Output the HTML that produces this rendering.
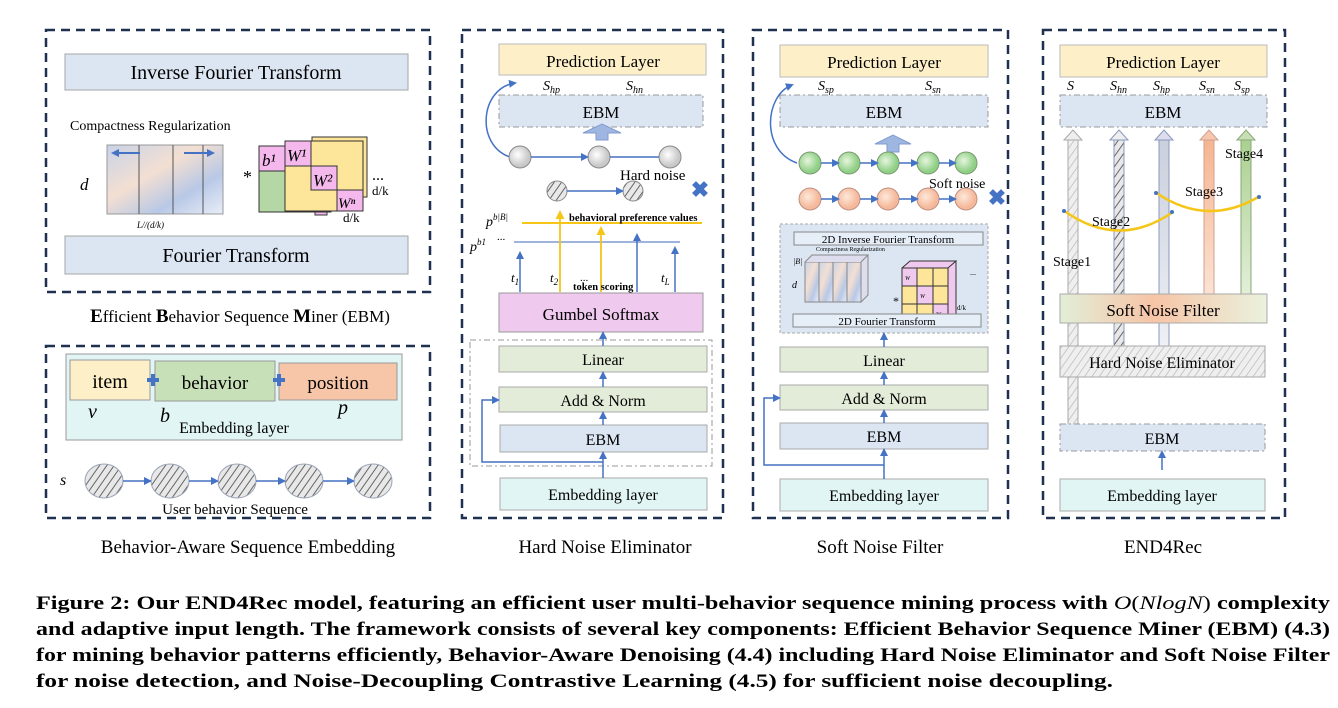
<!DOCTYPE html>
<html><head><meta charset="utf-8"><style>
html,body{margin:0;padding:0;background:#fff;}
svg{display:block;font-family:"Liberation Serif",serif;}
</style></head><body>
<svg width="1338" height="708" viewBox="0 0 1338 708" xmlns="http://www.w3.org/2000/svg">
<defs>
<pattern id="hatch" width="6" height="6" patternUnits="userSpaceOnUse" patternTransform="rotate(35)">
<rect width="6" height="6" fill="#e8e8e8"/><line x1="0" y1="0" x2="0" y2="6" stroke="#666" stroke-width="2"/></pattern>
<pattern id="hatchL" width="6" height="6" patternUnits="userSpaceOnUse" patternTransform="rotate(35)">
<rect width="6" height="6" fill="#efefef"/><line x1="0" y1="0" x2="0" y2="6" stroke="#bbb" stroke-width="1.5"/></pattern>
<marker id="ar" markerWidth="8" markerHeight="8" refX="6" refY="4" orient="auto" markerUnits="userSpaceOnUse"><path d="M0,0 L8,4 L0,8z" fill="#4472c4"/></marker>
<marker id="ay" markerWidth="9" markerHeight="9" refX="6" refY="4.5" orient="auto" markerUnits="userSpaceOnUse"><path d="M0,0 L9,4.5 L0,9z" fill="#f5c518"/></marker>
<radialGradient id="gc" cx="0.4" cy="0.4"><stop offset="0" stop-color="#fff"/><stop offset="1" stop-color="#c8c8c8"/></radialGradient>
<radialGradient id="gg" cx="0.4" cy="0.4"><stop offset="0" stop-color="#e6f5dd"/><stop offset="1" stop-color="#8fcf86"/></radialGradient>
<radialGradient id="go" cx="0.4" cy="0.4"><stop offset="0" stop-color="#fde9da"/><stop offset="1" stop-color="#f5b89a"/></radialGradient>
<linearGradient id="gm" x1="0" y1="0" x2="1" y2="1"><stop offset="0" stop-color="#c8d3e8"/><stop offset="0.4" stop-color="#f3dfd2"/><stop offset="0.7" stop-color="#b8c8e6"/><stop offset="1" stop-color="#e8eef8"/></linearGradient>
<linearGradient id="gs" x1="0" y1="0" x2="1" y2="0"><stop offset="0" stop-color="#e2eed8"/><stop offset="0.45" stop-color="#f7c4a6"/><stop offset="1" stop-color="#eaf2de"/></linearGradient>
<linearGradient id="vo" x1="0" y1="0" x2="0" y2="1"><stop offset="0" stop-color="#f6b48f"/><stop offset="1" stop-color="#fbe3d4"/></linearGradient>
<linearGradient id="vg" x1="0" y1="0" x2="0" y2="1"><stop offset="0" stop-color="#a9d08e"/><stop offset="1" stop-color="#e2efd9"/></linearGradient>
<linearGradient id="vb" x1="0" y1="0" x2="0" y2="1"><stop offset="0" stop-color="#c9cfdc"/><stop offset="1" stop-color="#eef0f5"/></linearGradient>
</defs>
<g fill="none" stroke="#1f3050" stroke-width="2.5" stroke-dasharray="9 6">
<rect x="46" y="30" width="384" height="262"/>
<rect x="46" y="346" width="384" height="172"/>
<rect x="462" y="30" width="261" height="488"/>
<rect x="753" y="30" width="255" height="488"/>
<rect x="1043" y="30" width="242" height="488"/>
</g>
<rect x="65" y="54" width="343" height="36" fill="#dce6f2" stroke="#a6a6a6"/>
<text x="236" y="79" font-size="20" text-anchor="middle">Inverse Fourier Transform</text>
<rect x="65" y="236" width="343" height="38" fill="#dce6f2" stroke="#a6a6a6"/>
<text x="236" y="262" font-size="20" text-anchor="middle">Fourier Transform</text>
<text x="70" y="130" font-size="14">Compactness Regularization</text>
<text x="80" y="190" font-size="17" font-style="italic">d</text>
<rect x="107" y="145" width="116" height="69" fill="url(#gm)" stroke="#999"/>
<g stroke="#555"><line x1="139" y1="145" x2="139" y2="214"/><line x1="173" y1="145" x2="173" y2="214"/><line x1="203" y1="145" x2="203" y2="214"/></g>
<line x1="140" y1="153" x2="113" y2="153" stroke="#4472c4" stroke-width="2" marker-end="url(#ar)"/>
<line x1="184" y1="153" x2="213" y2="153" stroke="#4472c4" stroke-width="2" marker-end="url(#ar)"/>
<text x="137" y="228" font-size="9" font-style="italic">L//(d/k)</text>
<text x="243" y="183" font-size="18">*</text>
<rect x="315" y="137" width="12" height="78" fill="#f4b8ec" stroke="#333"/>
<rect x="312" y="137" width="55" height="60" fill="#fde59a" stroke="#333"/>
<rect x="259" y="146" width="72" height="66" fill="#b5d6a5" stroke="#333"/>
<rect x="259" y="146" width="26" height="25" fill="#f4b8ec" stroke="#333"/>
<rect x="285" y="141" width="78" height="70" fill="#fde59a" stroke="#333"/>
<rect x="285" y="141" width="26" height="25" fill="#f4b8ec" stroke="#333"/>
<rect x="311" y="166" width="26" height="24" fill="#f4b8ec" stroke="#333"/>
<rect x="337" y="190" width="26" height="21" fill="#f4b8ec" stroke="#333"/>
<g font-size="17" font-style="italic"><text x="262" y="166">b¹</text><text x="287" y="161">W¹</text><text x="313" y="186">W²</text><text x="338" y="208" font-size="15">Wⁿ</text></g>
<text x="372" y="180" font-size="16">...</text>
<text x="372" y="195" font-size="13">d/k</text>
<text x="343" y="222" font-size="13">d/k</text>
<text x="240" y="322" font-size="17" text-anchor="middle"><tspan font-weight="bold" font-size="19">E</tspan>fficient <tspan font-weight="bold" font-size="19">B</tspan>ehavior Sequence <tspan font-weight="bold" font-size="19">M</tspan>iner (EBM)</text>
<rect x="66" y="354" width="336" height="86" fill="#e2f5f5" stroke="#999"/>
<rect x="70" y="360" width="80" height="40" fill="#fdf0c8" stroke="#999"/>
<rect x="155" y="361" width="120" height="40" fill="#c8e0b8" stroke="#999"/>
<rect x="279" y="363" width="118" height="37" fill="#f7c6a8" stroke="#999"/>
<text x="110" y="388" font-size="20" text-anchor="middle">item</text>
<text x="215" y="389" font-size="19" text-anchor="middle">behavior</text>
<text x="338" y="389" font-size="19" text-anchor="middle">position</text>
<g fill="#4472c4"><rect x="147" y="378" width="12" height="4"/><rect x="151" y="374" width="4" height="12"/><rect x="273" y="378" width="12" height="4"/><rect x="277" y="374" width="4" height="12"/></g>
<g font-size="20" font-style="italic"><text x="88" y="418">v</text><text x="160" y="422">b</text><text x="338" y="414">p</text></g>
<text x="234" y="433" font-size="16" text-anchor="middle">Embedding layer</text>
<text x="60" y="485" font-size="16" font-style="italic">s</text>
<g stroke="#9aa3b8" fill="url(#hatch)"><ellipse cx="104" cy="481" rx="19" ry="17"/><ellipse cx="170" cy="481" rx="19" ry="17"/><ellipse cx="237" cy="481" rx="19" ry="17"/><ellipse cx="304" cy="481" rx="19" ry="17"/><ellipse cx="373" cy="481" rx="19" ry="17"/></g>
<g stroke="#4472c4" stroke-width="1.5" marker-end="url(#ar)"><line x1="123" y1="481" x2="150" y2="481"/><line x1="189" y1="481" x2="217" y2="481"/><line x1="256" y1="481" x2="284" y2="481"/><line x1="323" y1="481" x2="353" y2="481"/></g>
<text x="235" y="514" font-size="15" text-anchor="middle">User behavior Sequence</text>
<rect x="499" y="44" width="207" height="31" fill="#fdefc8" stroke="#bbb"/>
<text x="603" y="67" font-size="17" text-anchor="middle">Prediction Layer</text>
<g font-size="14" font-style="italic"><text x="543" y="90">S<tspan font-size="10" dy="3">hp</tspan></text><text x="626" y="90">S<tspan font-size="10" dy="3">hn</tspan></text></g>
<rect x="499" y="95" width="204" height="32" fill="#dce6f2" stroke="#999" stroke-dasharray="6 3 2 3"/>
<text x="601" y="118" font-size="17" text-anchor="middle">EBM</text>
<path d="M596,140 L596,133 L583,133 L602,124 L621,133 L608,133 L608,140z" fill="#9fb6e0" stroke="#7f9bd0"/>
<path d="M510,157 C475,145 480,88 515,83" fill="none" stroke="#4472c4" stroke-width="1.5" marker-end="url(#ar)"/>
<g stroke="#888" fill="url(#gc)"><circle cx="520" cy="157" r="11"/><circle cx="599" cy="157" r="11"/><circle cx="670" cy="157" r="11"/></g>
<line x1="531" y1="157" x2="587" y2="157" stroke="#4472c4" stroke-width="1.5" marker-end="url(#ar)"/>
<line x1="610" y1="157" x2="659" y2="157" stroke="#4472c4" stroke-width="1.5"/>
<text x="620" y="180" font-size="15">Hard noise</text>
<g stroke="#888" fill="url(#hatch)"><circle cx="557" cy="191" r="10"/><circle cx="633" cy="191" r="10"/></g>
<line x1="567" y1="191" x2="622" y2="191" stroke="#4472c4" stroke-width="1.5" marker-end="url(#ar)"/>
<text x="700" y="197" font-size="22" fill="#4472c4" text-anchor="middle" font-weight="bold">✖</text>
<line x1="522" y1="223" x2="702" y2="223" stroke="#f5c518" stroke-width="2"/>
<line x1="514" y1="242" x2="680" y2="242" stroke="#7f9bd0" stroke-width="1.5"/>
<text x="569" y="221" font-size="10.5" font-weight="bold">behavioral preference values</text>
<g font-size="14" font-style="italic"><text x="486" y="226">p<tspan font-size="9" dy="-6">b|B|</tspan></text><text x="470" y="251">p<tspan font-size="9" dy="-6">b1</tspan></text></g>
<text x="497" y="240" font-size="11">...</text>
<g stroke="#4472c4" stroke-width="1.5" marker-end="url(#ar)"><line x1="520" y1="292" x2="520" y2="253"/><line x1="637" y1="292" x2="637" y2="235"/><line x1="675" y1="292" x2="675" y2="248"/></g>
<g stroke="#f5c518" stroke-width="1.8" marker-end="url(#ay)"><line x1="560" y1="292" x2="560" y2="213"/><line x1="601" y1="292" x2="601" y2="229"/></g>
<g font-size="13" font-style="italic"><text x="511" y="282">t<tspan font-size="9" dy="3">1</tspan></text><text x="550" y="282">t<tspan font-size="9" dy="3">2</tspan></text><text x="661" y="282">t<tspan font-size="9" dy="3">L</tspan></text></g>
<text x="580" y="281" font-size="11">...</text>
<text x="573" y="290" font-size="10.5" font-weight="bold">token scoring</text>
<rect x="499" y="293" width="204" height="39" fill="#f0c9ee" stroke="#999"/>
<text x="601" y="320" font-size="17" text-anchor="middle">Gumbel Softmax</text>
<rect x="470" y="340" width="242" height="126" fill="none" stroke="#999" stroke-dasharray="6 3 2 3"/>
<rect x="499" y="346" width="208" height="26" fill="#e3ecd9" stroke="#aaa"/>
<text x="603" y="365" font-size="16" text-anchor="middle">Linear</text>
<rect x="499" y="387" width="208" height="25" fill="#e3ecd9" stroke="#aaa"/>
<text x="603" y="406" font-size="16" text-anchor="middle">Add &amp; Norm</text>
<rect x="500" y="425" width="207" height="27" fill="#dce6f2" stroke="#aaa"/>
<text x="603" y="445" font-size="16" text-anchor="middle">EBM</text>
<rect x="500" y="478" width="207" height="32" fill="#e2f5f5" stroke="#aaa"/>
<text x="603" y="500" font-size="16" text-anchor="middle">Embedding layer</text>
<g stroke="#4472c4" stroke-width="1.5" fill="none" marker-end="url(#ar)">
<line x1="603" y1="478" x2="603" y2="453"/><line x1="603" y1="425" x2="603" y2="413"/><line x1="603" y1="387" x2="603" y2="373"/><line x1="603" y1="346" x2="603" y2="333"/>
<path d="M603,462 L482,462 L482,400 L498,400"/></g>
<rect x="780" y="45" width="208" height="32" fill="#fdefc8" stroke="#bbb"/>
<text x="884" y="68" font-size="17" text-anchor="middle">Prediction Layer</text>
<g font-size="14" font-style="italic"><text x="818" y="90">S<tspan font-size="10" dy="3">sp</tspan></text><text x="925" y="90">S<tspan font-size="10" dy="3">sn</tspan></text></g>
<rect x="780" y="95" width="208" height="32" fill="#dce6f2" stroke="#999" stroke-dasharray="6 3 2 3"/>
<text x="884" y="118" font-size="17" text-anchor="middle">EBM</text>
<path d="M887,152 L887,144 L875,144 L893,135 L911,144 L899,144 L899,152z" fill="#9fb6e0" stroke="#7f9bd0"/>
<path d="M797,163 C760,150 765,95 792,85" fill="none" stroke="#4472c4" stroke-width="1.5" marker-end="url(#ar)"/>
<g stroke="#7a9a70" fill="url(#gg)"><circle cx="810" cy="163" r="11"/><circle cx="849" cy="163" r="11"/><circle cx="888" cy="163" r="11"/><circle cx="928" cy="163" r="11"/><circle cx="966" cy="163" r="11"/></g>
<g stroke="#c09080" fill="url(#go)"><circle cx="810" cy="199" r="11"/><circle cx="849" cy="199" r="11"/><circle cx="888" cy="199" r="11"/><circle cx="928" cy="199" r="11"/><circle cx="966" cy="199" r="11"/></g>
<g stroke="#4472c4" stroke-width="1.5" marker-end="url(#ar)"><line x1="821" y1="163" x2="838" y2="163"/><line x1="860" y1="163" x2="877" y2="163"/><line x1="899" y1="163" x2="917" y2="163"/><line x1="939" y1="163" x2="955" y2="163"/><line x1="821" y1="199" x2="838" y2="199"/><line x1="860" y1="199" x2="877" y2="199"/><line x1="899" y1="199" x2="917" y2="199"/><line x1="939" y1="199" x2="955" y2="199"/></g>
<text x="929" y="188" font-size="14">Soft noise</text>
<text x="997" y="205" font-size="22" fill="#4472c4" text-anchor="middle" font-weight="bold">✖</text>
<rect x="780" y="224" width="208" height="109" fill="#dce6f2" stroke="#aaa" stroke-dasharray="3 2"/>
<rect x="794" y="232" width="189" height="13" fill="#e6eef8" stroke="#888"/>
<text x="888" y="243" font-size="11" text-anchor="middle">2D Inverse Fourier Transform</text>
<text x="816" y="251" font-size="6">Compactness Regularization</text>
<text x="793" y="264" font-size="8" font-style="italic">|B|</text>
<text x="792" y="288" font-size="10" font-style="italic">d</text>
<g stroke="#888" fill="url(#gm)"><rect x="805" y="262" width="14" height="40"/><rect x="819" y="262" width="14" height="40"/><rect x="833" y="262" width="14" height="40"/><rect x="847" y="262" width="14" height="40"/></g>
<path d="M805,262 L812,255 L868,255 L861,262 M861,262 L861,302 L868,295 L868,255" fill="#dde" stroke="#888"/>
<text x="893" y="305" font-size="12">*</text>
<path d="M902,268 L910,261 L956,261 L948,268 M948,268 L948,323 L956,316 L956,261" fill="#f0c9ee" stroke="#333"/>
<rect x="902" y="268" width="46" height="55" fill="#fde59a" stroke="#333"/>
<g stroke="#333"><line x1="917" y1="268" x2="917" y2="323"/><line x1="933" y1="268" x2="933" y2="323"/><line x1="902" y1="286" x2="948" y2="286"/><line x1="902" y1="304" x2="948" y2="304"/></g>
<g fill="#f0c9ee" stroke="#333"><rect x="902" y="268" width="15" height="18"/><rect x="917" y="286" width="16" height="18"/><rect x="933" y="304" width="15" height="19"/></g>
<g font-size="6" font-style="italic"><text x="905" y="280">W</text><text x="920" y="298">W</text><text x="936" y="316">W</text></g>
<text x="970" y="275" font-size="8">...</text>
<text x="957" y="310" font-size="7">d/k</text><text x="954" y="319" font-size="7">d/k</text>
<rect x="793" y="314" width="188" height="13" fill="#e6eef8" stroke="#888"/>
<text x="887" y="325" font-size="11" text-anchor="middle">2D Fourier Transform</text>
<rect x="780" y="347" width="208" height="25" fill="#e3ecd9" stroke="#aaa"/>
<text x="884" y="366" font-size="16" text-anchor="middle">Linear</text>
<rect x="780" y="385" width="208" height="25" fill="#e3ecd9" stroke="#aaa"/>
<text x="884" y="404" font-size="16" text-anchor="middle">Add &amp; Norm</text>
<rect x="780" y="423" width="208" height="26" fill="#dce6f2" stroke="#aaa"/>
<text x="884" y="442" font-size="16" text-anchor="middle">EBM</text>
<rect x="780" y="479" width="208" height="32" fill="#e2f5f5" stroke="#aaa"/>
<text x="884" y="501" font-size="16" text-anchor="middle">Embedding layer</text>
<g stroke="#4472c4" stroke-width="1.5" fill="none" marker-end="url(#ar)">
<line x1="884" y1="479" x2="884" y2="450"/><line x1="884" y1="423" x2="884" y2="411"/><line x1="884" y1="385" x2="884" y2="373"/><line x1="884" y1="347" x2="884" y2="334"/>
<path d="M884,465 L764,465 L764,398 L779,398"/></g>
<rect x="1060" y="45" width="207" height="32" fill="#fdefc8" stroke="#bbb"/>
<text x="1163" y="68" font-size="17" text-anchor="middle">Prediction Layer</text>
<g font-size="14" font-style="italic"><text x="1067" y="90">S</text><text x="1110" y="90">S<tspan font-size="10" dy="3">hn</tspan></text><text x="1153" y="90">S<tspan font-size="10" dy="3">hp</tspan></text><text x="1199" y="90">S<tspan font-size="10" dy="3">sn</tspan></text><text x="1234" y="90">S<tspan font-size="10" dy="3">sp</tspan></text></g>
<rect x="1060" y="95" width="207" height="32" fill="#dce6f2" stroke="#999" stroke-dasharray="6 3 2 3"/>
<text x="1163" y="118" font-size="17" text-anchor="middle">EBM</text>
<rect x="1068" y="137" width="10" height="288" fill="url(#hatchL)" stroke="#aaa"/>
<path d="M1064,140 L1073,130 L1082,140z" fill="#eee" stroke="#aaa"/>
<rect x="1114" y="137" width="10" height="210" fill="url(#hatch)" stroke="#8899bb"/>
<path d="M1110,140 L1119,130 L1128,140z" fill="#eee" stroke="#8899bb"/>
<rect x="1159" y="137" width="10" height="210" fill="url(#vb)" stroke="#8899bb"/>
<path d="M1155,140 L1164,130 L1173,140z" fill="#dde" stroke="#8899bb"/>
<rect x="1204" y="137" width="10" height="158" fill="url(#vo)" stroke="#d0a090"/>
<path d="M1200,140 L1209,130 L1218,140z" fill="#f6c8ae" stroke="#d0a090"/>
<rect x="1241" y="137" width="10" height="158" fill="url(#vg)" stroke="#8aa878"/>
<path d="M1237,140 L1246,130 L1255,140z" fill="#c6e0b4" stroke="#8aa878"/>
<g fill="none" stroke="#f5c518" stroke-width="2.5"><path d="M1063,210 Q1118,250 1173,212"/><path d="M1155,192 Q1207,228 1260,196"/></g>
<g fill="#4472c4"><circle cx="1064" cy="211" r="2"/><circle cx="1172" cy="212" r="2"/><circle cx="1156" cy="193" r="2"/><circle cx="1259" cy="197" r="2"/></g>
<g font-size="14"><text x="1225" y="158">Stage4</text><text x="1185" y="196">Stage3</text><text x="1092" y="226">Stage2</text><text x="1053" y="266">Stage1</text></g>
<rect x="1060" y="294" width="207" height="29" fill="url(#gs)" stroke="#aaa"/>
<text x="1163" y="316" font-size="17" text-anchor="middle">Soft Noise Filter</text>
<rect x="1060" y="346" width="205" height="31" fill="url(#hatchL)" stroke="#aaa"/>
<text x="1162" y="368" font-size="16" text-anchor="middle">Hard Noise Eliminator</text>
<rect x="1060" y="424" width="205" height="27" fill="#dce6f2" stroke="#999" stroke-dasharray="6 3 2 3"/>
<text x="1162" y="444" font-size="16" text-anchor="middle">EBM</text>
<rect x="1060" y="479" width="205" height="32" fill="#e2f5f5" stroke="#aaa"/>
<text x="1162" y="501" font-size="16" text-anchor="middle">Embedding layer</text>
<line x1="1162" y1="470" x2="1162" y2="452" stroke="#4472c4" stroke-width="1.5" marker-end="url(#ar)"/>
<g font-size="19" text-anchor="middle"><text x="248" y="553">Behavior-Aware Sequence Embedding</text><text x="605" y="553">Hard Noise Eliminator</text><text x="880" y="553">Soft Noise Filter</text><text x="1163" y="553">END4Rec</text></g>
<g font-size="18.6" font-weight="bold">
<text x="36" y="609" textLength="1294" lengthAdjust="spacingAndGlyphs">Figure 2: Our END4Rec model, featuring an efficient user multi-behavior sequence mining process with <tspan font-weight="normal" font-style="italic">O</tspan><tspan font-weight="normal">(</tspan><tspan font-weight="normal" font-style="italic">NlogN</tspan><tspan font-weight="normal">)</tspan> complexity</text>
<text x="36" y="635" textLength="1294" lengthAdjust="spacingAndGlyphs">and adaptive input length. The framework consists of several key components: Efficient Behavior Sequence Miner (EBM) (4.3)</text>
<text x="36" y="661" textLength="1294" lengthAdjust="spacingAndGlyphs">for mining behavior patterns efficiently, Behavior-Aware Denoising (4.4) including Hard Noise Eliminator and Soft Noise Filter</text>
<text x="36" y="687" textLength="1077" lengthAdjust="spacingAndGlyphs">for noise detection, and Noise-Decoupling Contrastive Learning (4.5) for sufficient noise decoupling.</text>
</g>
</svg>
</body></html>
